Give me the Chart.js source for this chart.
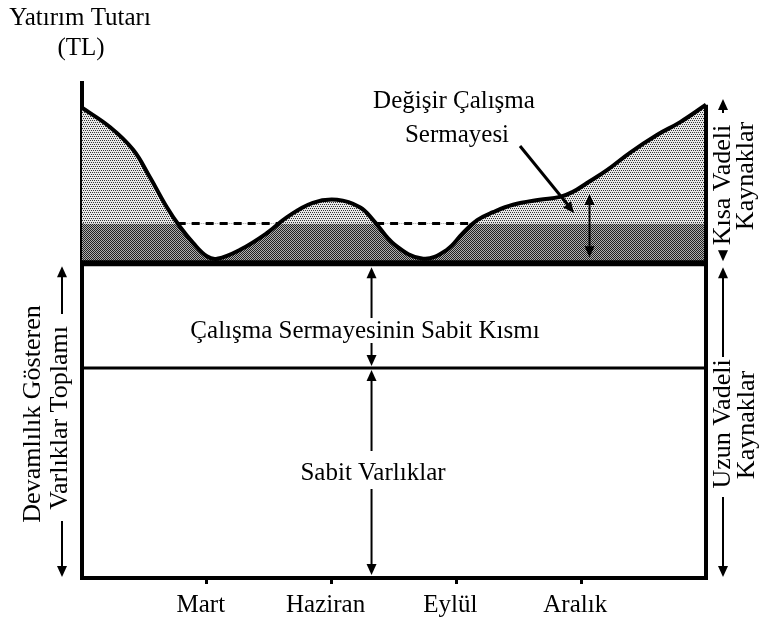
<!DOCTYPE html>
<html>
<head>
<meta charset="utf-8">
<script src="https://cdn.jsdelivr.net/npm/chart.js@4/dist/chart.umd.min.js"></script>
<style>
  html, body { margin: 0; padding: 0; background: #fff; }
  #wrap { width: 761px; height: 619px; }
</style>
</head>
<body>
<div id="wrap"><canvas id="grafik" width="761" height="619"></canvas></div>
<script>
// ay ekseni (0 = yıl başı), etiketli aylar
const tickMonths = [3, 6, 9, 12];
const tickLabels = ['Mart', 'Haziran', 'Eylül', 'Aralık'];

// toplam varlık eğrisi (ay, tutar)
const curveMonths = [0, 0.67, 1.23, 1.63, 2.04, 2.36, 2.67, 3.0, 3.25, 3.8, 4.45, 4.93, 5.55, 6.13, 6.68, 7.0, 7.52, 8.2, 8.77, 9.16, 9.5, 9.88, 10.36, 11.0, 11.49, 11.8, 12.14, 12.62, 13.17, 13.82, 14.38, 15];
const curveValues = [95, 91.1, 86.5, 81.0, 74.9, 70.9, 67.7, 65.0, 64.5, 66.3, 69.7, 72.9, 75.8, 76.4, 74.9, 72.3, 67.3, 64.5, 66.3, 69.7, 72.3, 73.9, 75.4, 76.4, 77.0, 78.0, 79.8, 82.4, 85.9, 89.5, 92.1, 95.6];

// seviyeler
const fixedAssets = 42.4;      // sabit varlıklar
const permanentLevel = 63.6;   // devamlılık gösteren varlıklar toplamı
const dashedLevel = 71.6;      // kesikli çizgi
const dashedMonths = [2.3, 4.75, 7.07, 9.4]; // kesikli çizginin görünen parçaları

const xMin = 0, xMax = 15;

// noktalı doku
function makePattern(size, dots, bg, fg) {
    const c = document.createElement('canvas');
    c.width = size; c.height = size;
    const g = c.getContext('2d');
    g.fillStyle = bg;
    g.fillRect(0, 0, size, size);
    g.fillStyle = fg;
    dots.forEach(d => g.fillRect(d[0], d[1], 1, 1));
    return g.createPattern(c, 'repeat');
}

const ctx = document.getElementById('grafik').getContext('2d');
const lightDots = makePattern(4, [[0, 0], [2, 0], [1, 2], [3, 2]], '#e8e8e8', '#333333');
const darkDots = makePattern(2, [[0, 0], [1, 1]], '#b0b0b0', '#222222');

const curveData = curveMonths.map((m, i) => ({ x: m, y: curveValues[i] }));
const dashedData = [
    { x: dashedMonths[0], y: dashedLevel }, { x: dashedMonths[1], y: dashedLevel },
    { x: (dashedMonths[1] + dashedMonths[2]) / 2, y: null },
    { x: dashedMonths[2], y: dashedLevel }, { x: dashedMonths[3], y: dashedLevel }
];

// oklar
function arrowHead(g, x, y, dir) {
    g.beginPath();
    g.moveTo(x, y);
    g.lineTo(x - 5, y - dir * 11);
    g.lineTo(x + 5, y - dir * 11);
    g.closePath();
    g.fill();
}
function vArrow(g, x, y1, y2, headUp, headDown) {
    g.beginPath();
    g.moveTo(x, y1 + (headUp ? 8 : 0));
    g.lineTo(x, y2 - (headDown ? 8 : 0));
    g.stroke();
    if (headUp) arrowHead(g, x, y1, -1);
    if (headDown) arrowHead(g, x, y2, 1);
}
function vText(g, text, x, y) {
    g.save();
    g.translate(x, y);
    g.rotate(-Math.PI / 2);
    g.fillText(text, 0, 0);
    g.restore();
}

const annotations = {
    id: 'annotations',
    afterDraw(chart) {
        const g = chart.ctx;
        const xs = chart.scales.x, ys = chart.scales.y;
        g.save();
        g.fillStyle = '#000';
        g.strokeStyle = '#000';
        g.lineWidth = 2;
        g.textAlign = 'center';
        g.textBaseline = 'alphabetic';

        // eksen başlığı
        g.font = '25px "Liberation Serif"';
        g.fillText('Yatırım Tutarı', 80, 25);
        g.fillText('(TL)', 81, 55);

        // orta oklar ve yazılar
        const cx = xs.getPixelForValue(6.96);
        const yPerm = ys.getPixelForValue(permanentLevel);
        const yFix = ys.getPixelForValue(fixedAssets);
        const yZero = ys.getPixelForValue(0);
        vArrow(g, cx, yPerm + 4, 318, true, false);
        vArrow(g, cx, 343, yFix - 2, false, true);
        g.fillText('Çalışma Sermayesinin Sabit Kısmı', 365, 338);
        vArrow(g, cx, yFix + 2, 451, true, false);
        vArrow(g, cx, 489, yZero - 3, false, true);
        g.fillText('Sabit Varlıklar', 373, 480);

        // değişir çalışma sermayesi
        g.fillText('Değişir Çalışma', 454, 108);
        g.fillText('Sermayesi', 457, 142);
        const ax = xs.getPixelForValue(12.2);
        vArrow(g, ax, ys.getPixelForValue(77.6), yPerm - 6, true, true);
        g.lineWidth = 3;
        g.beginPath();
        g.moveTo(520, 146);
        g.lineTo(568, 205);
        g.stroke();
        g.save();
        g.translate(574, 213);
        g.rotate(Math.atan2(59, 48) - Math.PI / 2);
        arrowHead(g, 0, 0, 1);
        g.restore();
        g.lineWidth = 2;

        // sol taraf
        g.font = '26px "Liberation Serif"';
        g.textBaseline = 'middle';
        const lx = 62;
        vArrow(g, lx, yPerm + 3, 314, true, false);
        vArrow(g, lx, 521, yZero - 1, false, true);
        vText(g, 'Devamlılık Gösteren', 33, 414);
        vText(g, 'Varlıklar Toplamı', 60, 418);

        // sağ taraf
        const rx = 723;
        vArrow(g, rx, 99, 113, true, false);
        vArrow(g, rx, yPerm - 12, yPerm - 2, false, true);
        vText(g, 'Kısa Vadeli', rx, 185);
        vText(g, 'Kaynaklar', 746, 176);
        vArrow(g, rx, yPerm + 4, 357, true, false);
        vArrow(g, rx, 497, yZero - 1, false, true);
        vText(g, 'Uzun Vadeli', rx, 424);
        vText(g, 'Kaynaklar', 747, 425);
        g.restore();
    }
};

new Chart(ctx, {
    type: 'line',
    data: {
        datasets: [
            {
                // kısa vadeli bant (kesikli çizgi ile sabit kısım arası)
                data: [{ x: xMin, y: dashedLevel }, { x: xMax, y: dashedLevel }],
                borderWidth: 0,
                pointRadius: 0,
                fill: { value: permanentLevel },
                backgroundColor: darkDots,
                order: 6
            },
            {
                // toplam varlıklar eğrisi
                data: curveData,
                borderColor: '#000',
                borderWidth: 4,
                tension: 0.4,
                pointRadius: 0,
                fill: { target: { value: dashedLevel }, above: lightDots, below: '#fff' },
                order: 5
            },
            {
                data: dashedData,
                borderColor: '#000',
                borderWidth: 3,
                borderDash: [8, 6],
                pointRadius: 0,
                spanGaps: false,
                fill: false,
                order: 4
            },
            {
                data: [{ x: xMin, y: permanentLevel }, { x: xMax, y: permanentLevel }],
                borderColor: '#000',
                borderWidth: 6,
                pointRadius: 0,
                fill: false,
                order: 3
            },
            {
                data: [{ x: xMin, y: fixedAssets }, { x: xMax, y: fixedAssets }],
                borderColor: '#000',
                borderWidth: 3,
                pointRadius: 0,
                fill: false,
                order: 2
            },
            {
                // sağ kenar
                data: [{ x: xMax, y: 0 }, { x: xMax, y: 95.6 }],
                borderColor: '#000',
                borderWidth: 4,
                pointRadius: 0,
                fill: false,
                clip: false,
                order: 1
            }
        ]
    },
    options: {
        responsive: false,
        animation: false,
        layout: { padding: { left: 82, right: 55, top: 83, bottom: 0 } },
        plugins: {
            legend: { display: false },
            tooltip: { enabled: false }
        },
        scales: {
            x: {
                type: 'linear',
                min: xMin,
                max: xMax,
                afterBuildTicks: axis => { axis.ticks = tickMonths.map(v => ({ value: v })); },
                afterFit: axis => { axis.height = 41; },
                ticks: {
                    callback: v => tickLabels[tickMonths.indexOf(v)],
                    color: '#000',
                    font: { family: 'Liberation Serif', size: 25 },
                    maxRotation: 0,
                    padding: 6,
                    labelOffset: -6
                },
                grid: { drawOnChartArea: false, color: '#000', lineWidth: 3, tickLength: 6 },
                border: { color: '#000', width: 4 }
            },
            y: {
                min: 0,
                max: 100,
                ticks: { display: false },
                grid: { display: false, drawTicks: false },
                border: { color: '#000', width: 4 }
            }
        }
    },
    plugins: [annotations]
});
</script>
</body>
</html>
